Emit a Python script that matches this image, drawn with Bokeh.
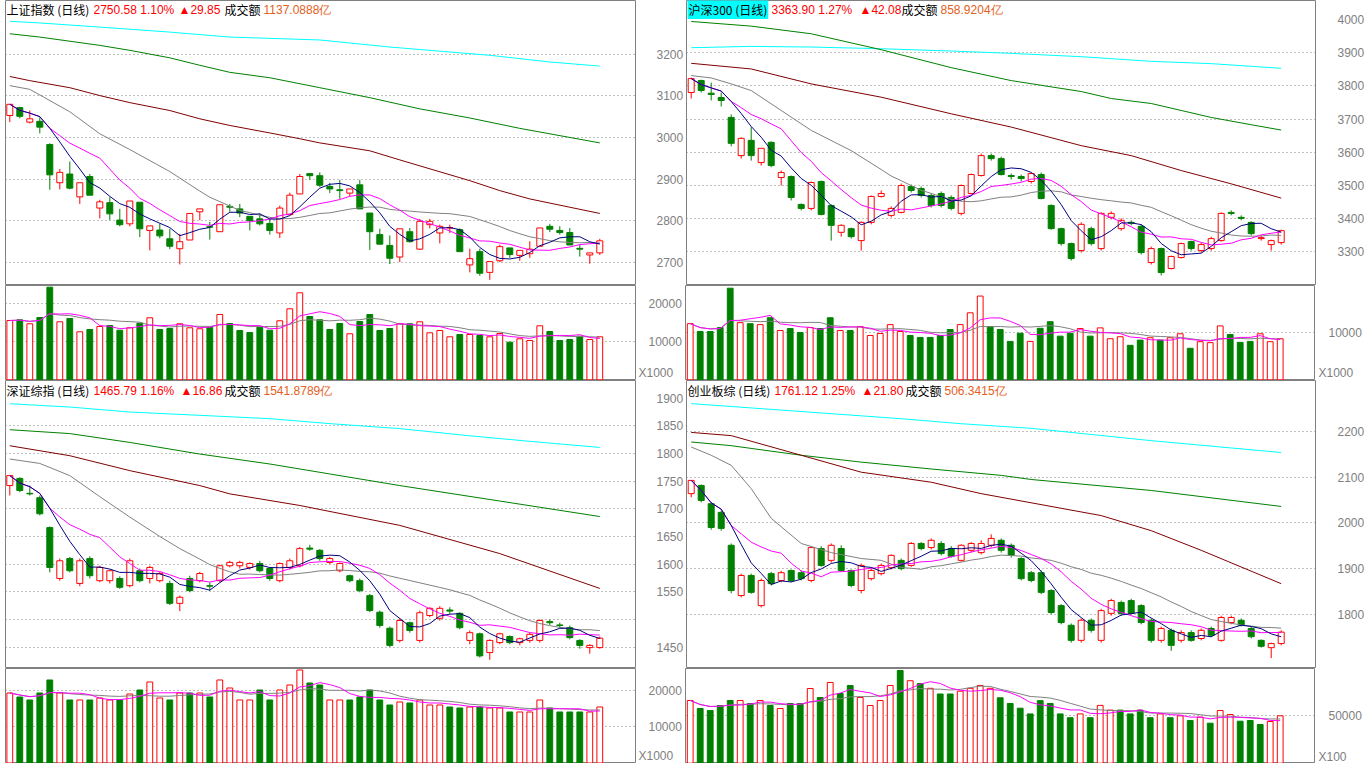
import numpy as np
import pandas as pd
from bokeh.plotting import figure
from bokeh.layouts import column, row
from bokeh.models import Range1d, FixedTicker, Label, ColumnDataSource, PrintfTickFormatter
from bokeh.embed import file_html
from bokeh.resources import INLINE

# ------------------------------------------------------------------ data
# 上证指数
SH_OPEN = [3053,3072,3037,3039,2983,2891,2912,2857,2906,2830,2843,2801,2792,2844,2776,2777,2756,2732,2753,2821,
           2785,2773,2834,2828,2810,2804,2793,2770,2814,2864,2913,2908,2882,2874,2866,2886,2818,2766,2740,2712,
           2773,2731,2790,2770,2782,2778,2693,2725,2675,2703,2734,2716,2720,2738,2786,2776,2771,2733,2717,2722]
SH_HIGH = [3080,3074,3065,3049,2986,2924,2942,2891,2912,2850,2856,2828,2847,2844,2787,2793,2780,2768,2817,2828,
           2797,2838,2840,2840,2810,2817,2804,2836,2867,2912,2913,2916,2891,2898,2876,2898,2818,2780,2764,2780,
           2782,2804,2804,2790,2790,2781,2732,2732,2701,2742,2734,2728,2750,2782,2792,2786,2782,2742,2722,2756]
SH_LOW = [3037,3046,3034,3010,2874,2875,2875,2840,2861,2805,2801,2786,2786,2760,2728,2757,2731,2694,2753,2801,
          2754,2773,2821,2808,2776,2788,2766,2758,2814,2864,2898,2881,2866,2852,2858,2828,2729,2743,2695,2700,
          2747,2729,2781,2745,2770,2725,2675,2667,2657,2700,2710,2703,2710,2738,2772,2766,2741,2713,2696,2717]
SH_CLOSE = [3080,3051,3045,3025,2910,2916,2878,2891,2861,2845,2816,2790,2847,2780,2787,2763,2738,2749,2817,2828,
            2784,2838,2832,2818,2800,2792,2776,2830,2861,2906,2908,2885,2876,2872,2876,2828,2773,2743,2709,2780,
            2749,2798,2798,2786,2783,2725,2708,2673,2701,2737,2718,2728,2731,2782,2779,2771,2741,2731,2722,2751]
SH_VOL = [15608,15792,14739,16397,24372,15266,16134,12634,13239,14028,14292,13055,13686,14897,16318,13239,13502,14739,13686,13423,
          13844,17187,14818,12976,12450,13844,13055,15529,18687,22898,16661,15792,13239,14818,12107,15345,17187,12976,13502,14739,
          14739,15266,12370,12976,11318,11923,11923,11660,11318,12186,9896,10791,10344,14213,12713,10344,10607,11476,10607,11318]
SH_MA20_HEAD_IDX = [0, 2, 6, 9, 12, 16]
SH_MA20_HEAD = [3125, 3116, 3062, 3009, 2971, 2918]
SH_MA60_IDX = [0, 2, 6, 9, 12, 16, 19, 22, 26, 29, 31, 36, 39, 46, 49, 52, 56, 59]
SH_MA60 = [3147, 3137, 3120, 3101, 3084, 3065, 3045, 3029, 3011, 2997, 2987, 2968, 2946, 2896, 2872, 2852, 2832, 2817]
SH_MA120_IDX = [0, 3, 9, 12, 16, 19, 22, 26, 31, 36, 41, 46, 51, 59]
SH_MA120 = [3250, 3242, 3222, 3210, 3192, 3174, 3157, 3144, 3120, 3096, 3069, 3047, 3022, 2987]
SH_MA250_IDX = [0, 3, 9, 16, 22, 31, 38, 48, 54, 59]
SH_MA250 = [3280, 3276, 3266, 3254, 3242, 3235, 3218, 3198, 3182, 3172]
SH_TITLE = ["上证指数 (日线)", "2750.58 1.10%", "▲29.85", "成交额", "1137.0888亿"]

# 沪深300
HS_OPEN = [3780,3816,3778,3765,3705,3590,3636,3569,3630,3524,3527,3443,3431,3512,3440,3359,3370,3334,3389,3467,
           3410,3419,3497,3491,3470,3476,3464,3416,3476,3530,3590,3581,3530,3527,3512,3533,3440,3370,3325,3304,
           3370,3310,3404,3370,3389,3377,3268,3310,3250,3283,3331,3304,3310,3334,3419,3404,3389,3340,3322,3328]
HS_HIGH = [3825,3819,3810,3780,3714,3645,3676,3612,3633,3545,3530,3446,3512,3515,3443,3383,3373,3392,3470,3485,
           3437,3506,3503,3497,3476,3482,3470,3503,3536,3596,3596,3587,3536,3533,3539,3539,3443,3373,3328,3389,
           3376,3419,3422,3401,3395,3383,3316,3313,3289,3328,3334,3328,3346,3419,3425,3410,3392,3349,3337,3367]
HS_LOW = [3762,3780,3756,3738,3618,3581,3575,3560,3555,3500,3455,3425,3425,3410,3334,3346,3340,3304,3383,3464,
          3404,3416,3479,3464,3434,3434,3425,3410,3473,3527,3575,3530,3518,3512,3506,3458,3367,3319,3274,3298,
          3319,3304,3398,3364,3380,3292,3262,3229,3247,3280,3304,3298,3304,3331,3410,3395,3349,3334,3304,3322]
HS_CLOSE = [3822,3786,3774,3756,3627,3642,3590,3612,3560,3539,3464,3431,3509,3413,3380,3380,3346,3389,3467,3476,
            3431,3500,3485,3470,3440,3440,3431,3500,3533,3590,3581,3533,3527,3521,3536,3461,3370,3325,3280,3383,
            3325,3416,3416,3395,3386,3298,3310,3238,3286,3325,3310,3322,3340,3416,3416,3401,3355,3343,3334,3364]
HS_VOL = [11947,10270,10270,11109,19493,12157,11947,11738,13205,10480,10899,10061,11109,10899,13205,10480,10480,11318,9432,9851,
          11738,10270,9432,9013,9013,9432,10690,11738,14253,17816,11318,10690,8174,9914,8174,10962,12366,9285,9914,10899,
          9285,11046,8740,9159,7336,8447,8950,8447,8950,9788,6707,8111,7902,11465,9642,7965,8174,9788,8111,8740]
HS_MA20_HEAD_IDX = [0, 2, 4, 6, 9, 12, 16]
HS_MA20_HEAD = [3831, 3824, 3806, 3786, 3726, 3666, 3605]
HS_MA60_IDX = [0, 6, 12, 19, 26, 32, 39, 44, 49, 54, 59]
HS_MA60 = [3868, 3851, 3806, 3766, 3716, 3676, 3620, 3590, 3545, 3505, 3462]
HS_MA120_IDX = [0, 6, 12, 19, 26, 32, 39, 42, 46, 49, 52, 56, 59]
HS_MA120 = [3994, 3980, 3957, 3909, 3855, 3816, 3783, 3762, 3747, 3726, 3705, 3683, 3667]
HS_MA250_IDX = [0, 6, 12, 19, 26, 32, 39, 46, 52, 59]
HS_MA250 = [3915, 3919, 3917, 3912, 3905, 3898, 3888, 3874, 3867, 3853]
HS_TITLE = ["沪深300 (日线)", "3363.90 1.27%", "▲42.08", "成交额", "858.9204亿"]

# 深证综指
SZ_OPEN = [1742,1755,1728,1720,1666,1574,1610,1565,1610,1570,1570,1574,1561,1588,1574,1570,1565,1529,1574,1570,
           1561,1570,1597,1597,1594,1601,1592,1570,1594,1597,1629,1625,1603,1588,1579,1570,1543,1513,1484,1462,
           1494,1462,1507,1502,1517,1511,1462,1474,1440,1458,1469,1458,1462,1462,1496,1490,1485,1462,1449,1449]
SZ_HIGH = [1760,1757,1742,1724,1668,1610,1613,1610,1614,1597,1590,1578,1610,1592,1597,1586,1570,1543,1579,1586,
           1567,1599,1606,1606,1603,1606,1594,1603,1610,1631,1635,1627,1613,1603,1581,1574,1546,1516,1487,1502,
           1496,1516,1522,1524,1522,1513,1480,1476,1464,1476,1471,1467,1476,1500,1500,1494,1489,1464,1455,1469]
SZ_LOW = [1724,1730,1724,1688,1585,1570,1585,1560,1574,1567,1565,1555,1558,1567,1565,1567,1526,1515,1549,1567,
          1552,1567,1594,1592,1590,1585,1570,1567,1590,1594,1624,1606,1600,1585,1567,1549,1513,1485,1450,1458,
          1476,1458,1504,1498,1510,1482,1455,1431,1427,1455,1455,1453,1458,1458,1490,1485,1464,1447,1438,1447]
SZ_CLOSE = [1760,1733,1727,1691,1594,1606,1588,1606,1579,1594,1588,1558,1606,1570,1594,1583,1529,1540,1552,1583,
            1560,1597,1603,1603,1601,1588,1574,1601,1606,1628,1627,1610,1610,1601,1570,1552,1516,1489,1453,1498,
            1480,1512,1520,1520,1515,1485,1476,1434,1462,1474,1458,1465,1473,1498,1494,1489,1467,1453,1453,1466]
SZ_VOL = [19446,18335,17501,19446,23057,19446,17501,17501,17501,18057,17501,17501,19168,20279,22502,18057,17501,19446,19446,19446,
          18335,23057,20835,17501,17501,20279,17501,20279,21668,25835,22224,21668,17501,17501,17501,18335,20279,17501,16112,16946,
          16668,17501,16112,16112,15557,15279,15557,15557,15279,15279,14168,14168,14168,17501,15279,14168,14168,14168,14168,15557]
SZ_MA20_HEAD_IDX = [0, 3, 6, 9, 12, 15, 17]
SZ_MA20_HEAD = [1790, 1782, 1760, 1722, 1685, 1650, 1628]
SZ_MA60_IDX = [0, 6, 12, 19, 22, 29, 39, 49, 59]
SZ_MA60 = [1814, 1796, 1769, 1742, 1727, 1706, 1670, 1619, 1556]
SZ_MA120_IDX = [0, 6, 12, 19, 26, 32, 39, 49, 59]
SZ_MA120 = [1843, 1836, 1820, 1799, 1781, 1763, 1742, 1714, 1686]
SZ_MA250_IDX = [0, 6, 12, 19, 26, 32, 39, 46, 52, 59]
SZ_MA250 = [1890, 1884, 1875, 1869, 1863, 1854, 1845, 1832, 1822, 1811]
SZ_TITLE = ["深证综指 (日线)", "1465.79 1.16%", "▲16.86", "成交额", "1541.8789亿"]

# 创业板综
CY_OPEN = [2064,2082,2042,2023,1951,1841,1885,1819,1889,1874,1896,1891,1874,1944,1918,1944,1896,1852,1878,1889,
           1902,1918,1907,1955,1946,1955,1944,1918,1940,1935,1951,1962,1951,1922,1891,1891,1852,1819,1776,1743,
           1787,1743,1802,1826,1830,1819,1787,1743,1765,1743,1760,1747,1769,1743,1782,1787,1769,1743,1727,1736]
CY_HIGH = [2093,2084,2045,2027,1955,1889,1889,1878,1893,1895,1898,1896,1949,1949,1955,1951,1898,1911,1900,1911,
           1931,1922,1958,1958,1966,1960,1949,1953,1958,1962,1975,1966,1955,1925,1895,1896,1855,1822,1780,1791,
           1791,1812,1834,1830,1834,1822,1791,1773,1769,1765,1765,1769,1773,1797,1797,1791,1773,1745,1738,1765]
CY_LOW = [2056,2045,1985,1983,1846,1837,1845,1815,1863,1870,1870,1874,1870,1904,1913,1893,1859,1846,1874,1885,
          1898,1896,1904,1940,1942,1929,1924,1915,1935,1931,1946,1935,1924,1874,1870,1844,1800,1778,1738,1738,
          1760,1738,1797,1797,1800,1778,1738,1738,1720,1738,1740,1743,1750,1740,1778,1773,1747,1727,1704,1732]
CY_CLOSE = [2093,2049,1990,1988,1852,1885,1848,1874,1867,1891,1874,1878,1946,1907,1951,1896,1863,1907,1896,1907,
            1929,1900,1955,1944,1962,1933,1927,1951,1955,1955,1966,1940,1929,1878,1874,1848,1804,1782,1743,1787,
            1765,1808,1830,1802,1802,1782,1743,1769,1732,1760,1743,1765,1754,1793,1793,1776,1751,1730,1736,1761]
CY_VOL = [66142,57703,55594,60868,66142,66142,62977,66142,60868,57703,62977,62977,78801,69307,85130,73528,81965,69307,60868,66142,
          81965,97800,87000,84000,79000,73000,73000,76000,79000,82000,79000,69000,63000,58000,52000,66000,63000,52000,48000,52000,
          48000,61000,56000,56000,52000,56000,48000,52000,48000,50000,45000,48525,42196,55593,51374,44306,45044,40825,43989,50002]
CY_MA20_HEAD_IDX = [0, 2, 4, 6, 8, 11, 14, 17]
CY_MA20_HEAD = [2166, 2148, 2126, 2075, 2010, 1955, 1935, 1922]
CY_MA60_IDX = [0, 4, 11, 17, 24, 29, 41, 46, 51, 59]
CY_MA60 = [2198, 2191, 2148, 2111, 2089, 2064, 2016, 1983, 1940, 1867]
CY_MA120_IDX = [0, 4, 11, 17, 24, 31, 34, 46, 59]
CY_MA120 = [2177, 2169, 2148, 2133, 2118, 2104, 2095, 2071, 2036]
CY_MA250_IDX = [0, 7, 14, 21, 27, 34, 46, 59]
CY_MA250 = [2261, 2250, 2239, 2228, 2217, 2207, 2180, 2154]
CY_TITLE = ["创业板综 (日线)", "1761.12 1.25%", "▲21.80", "成交额", "506.3415亿"]

# ------------------------------------------------------------------ style
RED = "#FF0000"
GREEN = "#008000"
NAVY = "#000080"
MAGENTA = "#FF00FF"
GRAY = "#808080"
DARKRED = "#800000"
CYAN = "#00FFFF"
ORANGE = "#E4601C"
CJK = "Noto Sans CJK SC"
LAT = "Liberation Sans"
NB = "\u00a0"


def rmean(vals, n, minp=1):
    return pd.Series(vals, dtype=float).rolling(n, min_periods=minp).mean().to_numpy()


def style_fig(p, ticks, grid, standoff, overrides=None):
    p.background_fill_color = "white"
    p.border_fill_color = "white"
    p.outline_line_color = GRAY
    p.outline_line_width = 1
    ax = p.yaxis[0]
    ax.ticker = FixedTicker(ticks=ticks)
    ax.formatter = PrintfTickFormatter(format="%d")
    if overrides:
        ax.major_label_overrides = overrides
    ax.axis_line_color = None
    ax.major_tick_line_color = None
    ax.minor_tick_line_color = None
    ax.major_tick_out = 0
    ax.major_tick_in = 0
    ax.major_label_standoff = standoff
    ax.major_label_text_color = GRAY
    ax.major_label_text_font = LAT
    ax.major_label_text_font_size = "12px"
    p.xgrid.visible = False
    p.ygrid.ticker = FixedTicker(ticks=grid)
    p.ygrid.grid_line_color = GRAY
    p.ygrid.grid_line_dash = "1 3"
    p.ygrid.grid_line_width = 1


def make_fig(xr, fw, fh, bl, aw, ylo, yhi):
    return figure(frame_width=fw, frame_height=fh, x_range=xr, y_range=Range1d(ylo, yhi),
                  x_axis_location=None, y_axis_location="right",
                  output_backend="svg", toolbar_location=None,
                  min_border_left=bl, min_border_right=aw, min_border_top=0, min_border_bottom=0)


def panel(o, h, l, c, v, ma20_idx, ma20_head, longs, title, title_x, title_dy, highlight,
          xr, fw, bl, aw, fh_p, fh_v, ylo, yhi, yticks, ygrid, pstand,
          vlo, vhi, vticks, vstand, vunit, vunit_at):
    n = len(o)
    x = np.arange(n)
    o_ = np.array(o, float); c_ = np.array(c, float)
    up = c_ >= o_
    col = [RED if u else GREEN for u in up]
    fill = ["white" if u else GREEN for u in up]
    src = ColumnDataSource(dict(x=x, left=x - 0.3, right=x + 0.3,
                                top=np.maximum(o_, c_), bot=np.minimum(o_, c_),
                                hi=h, lo=l, col=col, fill=fill,
                                vl=x - 0.29, vr=x + 0.29, vol=v))

    p = make_fig(xr, fw, fh_p, bl, aw, ylo, yhi)
    style_fig(p, yticks, ygrid, pstand)
    p.segment(x0="x", y0="top", x1="x", y1="hi", line_color="col", line_width=1, source=src)
    p.segment(x0="x", y0="bot", x1="x", y1="lo", line_color="col", line_width=1, source=src)
    p.quad(left="left", right="right", top="top", bottom="bot", fill_color="fill",
           line_color="col", line_width=1, source=src)

    for idx, vals, color in longs:
        p.line(idx, vals, line_color=color, line_width=1)
    ma20 = rmean(c, 20, 20)
    p.line(list(ma20_idx) + list(range(19, n)), list(ma20_head) + list(ma20[19:]),
           line_color=GRAY, line_width=1)
    p.line(x, rmean(c, 10), line_color=MAGENTA, line_width=1)
    p.line(x, rmean(c, 5), line_color=NAVY, line_width=1)

    colors = ["black", RED, RED, "black", ORANGE]
    fonts = [CJK, LAT, LAT, CJK, LAT]
    for k in range(5):
        kw = {}
        if k == 0 and highlight:
            kw = dict(background_fill_color=CYAN, padding=1)
        p.add_layout(Label(x=title_x[k], y=fh_p - title_dy, x_units="screen", y_units="screen",
                           text=title[k], text_color=colors[k], text_font=fonts[k],
                           text_font_size="12px", text_baseline="middle", text_align="left", **kw))

    q = make_fig(xr, fw, fh_v, bl, aw, vlo, vhi)
    ov = {t: NB * 3 + str(t) for t in vticks}
    ov[vunit_at] = vunit
    style_fig(q, [vunit_at] + list(vticks), vticks, vstand, ov)
    q.quad(left="vl", right="vr", top="vol", bottom=0, fill_color="fill", line_color="col",
           line_width=1, source=src)
    q.line(x, rmean(v, 10), line_color=GRAY, line_width=1)
    q.line(x, rmean(v, 5), line_color=MAGENTA, line_width=1)
    return p, q


XR_L = Range1d(-0.43, -0.43 + 63.0)
XR_R = Range1d(-0.47, -0.47 + 62.9)
FW_L, BL_L, AW_L = 630, 5, 50
FW_R, BL_R, AW_R = 629, 0, 52
H_TOP, H_TV, H_BOT, H_BV = 285, 95, 288, 95

sh_p, sh_v = panel(SH_OPEN, SH_HIGH, SH_LOW, SH_CLOSE, SH_VOL, SH_MA20_HEAD_IDX, SH_MA20_HEAD,
                   [(SH_MA250_IDX, SH_MA250, CYAN), (SH_MA120_IDX, SH_MA120, GREEN), (SH_MA60_IDX, SH_MA60, DARKRED)],
                   SH_TITLE, [1, 88, 173, 219, 258], 9, False,
                   XR_L, FW_L, BL_L, AW_L, H_TOP, H_TV, 2643.4, 3330.1, [2700, 2800, 2900, 3000, 3100, 3200],
                   [2700, 2800, 2900, 3000, 3100, 3200], 21,
                   -184, 24816, [10000, 20000], 3, "X1000", 1790)
hs_p, hs_v = panel(HS_OPEN, HS_HIGH, HS_LOW, HS_CLOSE, HS_VOL, HS_MA20_HEAD_IDX, HS_MA20_HEAD,
                   [(HS_MA250_IDX, HS_MA250, CYAN), (HS_MA120_IDX, HS_MA120, GREEN), (HS_MA60_IDX, HS_MA60, DARKRED)],
                   HS_TITLE, [1, 85, 173, 215, 254], 9, True,
                   XR_R, FW_R, BL_R, AW_R, H_TOP, H_TV, 3198.8, 4057.2, [3300, 3400, 3500, 3600, 3700, 3800, 3900, 4000],
                   [3300, 3400, 3500, 3600, 3700, 3800, 3900], 22,
                   -149, 20064, [10000], 4, "X1000", 1447)
sz_p, sz_v = panel(SZ_OPEN, SZ_HIGH, SZ_LOW, SZ_CLOSE, SZ_VOL, SZ_MA20_HEAD_IDX, SZ_MA20_HEAD,
                   [(SZ_MA250_IDX, SZ_MA250, CYAN), (SZ_MA120_IDX, SZ_MA120, GREEN), (SZ_MA60_IDX, SZ_MA60, DARKRED)],
                   SZ_TITLE, [1, 88, 175, 219, 258], 10, False,
                   XR_L, FW_L, BL_L, AW_L, H_BOT, H_BV, 1411.2, 1932.0,
                   [1450, 1550, 1600, 1650, 1700, 1750, 1800, 1850, 1900],
                   [1450, 1500, 1550, 1600, 1650, 1700, 1750, 1800, 1850], 21,
                   -139, 26250, [10000, 20000], 3, "X1000", 1944)
cy_p, cy_v = panel(CY_OPEN, CY_HIGH, CY_LOW, CY_CLOSE, CY_VOL, CY_MA20_HEAD_IDX, CY_MA20_HEAD,
                   [(CY_MA250_IDX, CY_MA250, CYAN), (CY_MA120_IDX, CY_MA120, GREEN), (CY_MA60_IDX, CY_MA60, DARKRED)],
                   CY_TITLE, [1, 88, 175, 219, 258], 10, False,
                   XR_R, FW_R, BL_R, AW_R, H_BOT, H_BV, 1681.4, 2311.6, [1800, 1900, 2000, 2100, 2200],
                   [1800, 1900, 2000, 2100, 2200], 22,
                   -316, 99895, [50000], 4, "X100", 6329)

layout = column(row(sh_p, hs_p), row(sh_v, hs_v), row(sz_p, cy_p), row(sz_v, cy_v))
open("out.html", "w").write(file_html(layout, INLINE))
